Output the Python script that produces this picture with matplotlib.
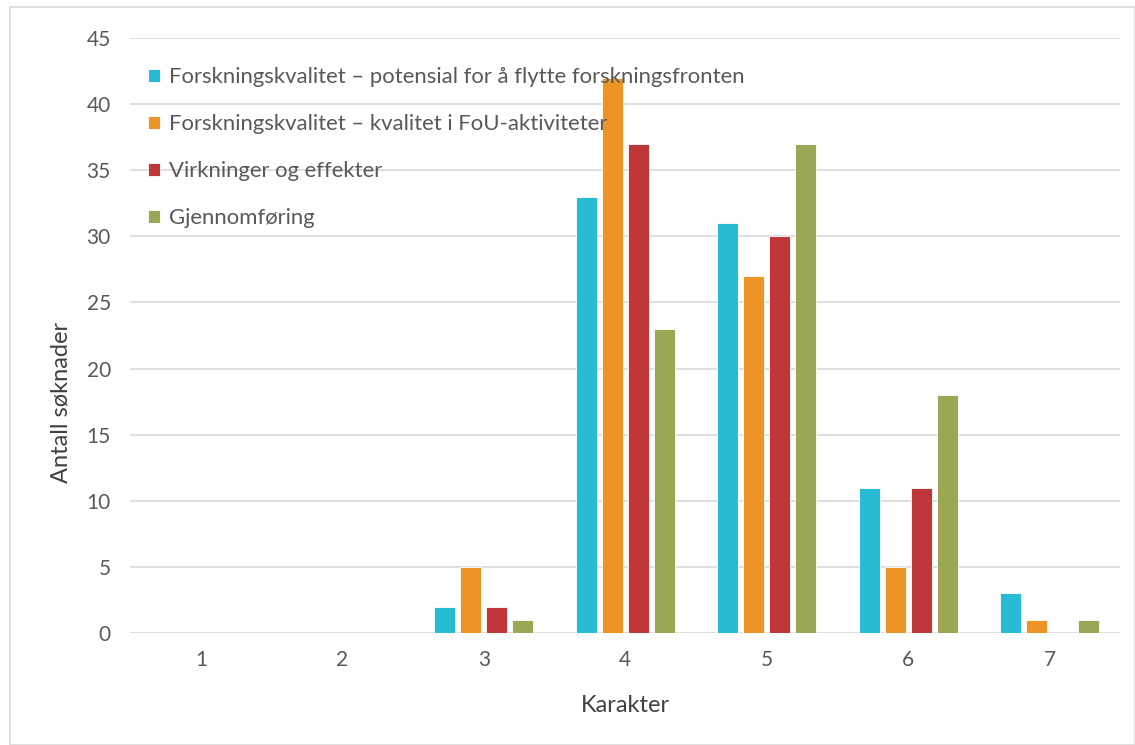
import numpy as np
import matplotlib
matplotlib.use("Agg")
import matplotlib.pyplot as plt
from matplotlib.patches import Rectangle

plt.rcParams['font.family'] = ['Lato', 'DejaVu Sans']

karakter = ['1', '2', '3', '4', '5', '6', '7']
series_names = [
    'Forskningskvalitet – potensial for å flytte forskningsfronten',
    'Forskningskvalitet – kvalitet i FoU-aktiviteter',
    'Virkninger og effekter',
    'Gjennomføring',
]
potensial = [0, 0, 2, 33, 31, 11, 3]
kvalitet = [0, 0, 5, 42, 27, 5, 1]
virkninger = [0, 0, 2, 37, 30, 11, 0]
gjennomforing = [0, 0, 1, 23, 37, 18, 1]
colors = ['#27BCD3', '#ED9427', '#C0373A', '#9BA754']

W, H = 1135, 745
fig = plt.figure(figsize=(W / 100, H / 100), dpi=100)
fig.patches.append(Rectangle((10 / W, 0), 1 - 10 / W, 1 - 7 / H, transform=fig.transFigure,
                             fill=False, edgecolor='#D9D9D9', linewidth=1.2))
ax = fig.add_axes([130.3 / W, 1 - 633 / H, 990 / W, 595 / H])

x = np.arange(len(karakter))
width = 0.148
step = 0.184
data = [potensial, kvalitet, virkninger, gjennomforing]
for i, (vals, name) in enumerate(zip(data, series_names)):
    ax.bar(x + (i - 1.5) * step, vals, width, color=colors[i], label=name, zorder=3,
           edgecolor='white', linewidth=0.6)

ax.set_xlim(-0.5, len(karakter) - 0.5)
ax.set_ylim(0, 45)
ax.set_yticks(range(0, 46, 5))
ax.set_xticks(x)
ax.set_xticklabels(karakter)
ax.yaxis.grid(True, color='#D9D9D9', linewidth=1.2, zorder=0)
ax.set_axisbelow(True)
for s in ax.spines.values():
    s.set_visible(False)
ax.tick_params(length=0, labelsize=15, colors='#595959')
ax.tick_params(axis='y', pad=14)
ax.tick_params(axis='x', pad=12)
ax.set_ylabel('Antall søknader', fontsize=17, color='#404040')
ax.yaxis.set_label_coords(-0.059, 0.388)
ax.set_xlabel('Karakter', fontsize=17, color='#404040')
ax.xaxis.set_label_coords(0.5, -0.105)

leg = ax.legend(loc='upper left', bbox_to_anchor=(0.018, 0.951), frameon=False,
                fontsize=15.9, labelspacing=1.22, handlelength=0.55, handleheight=0.55,
                handletextpad=0.4, borderaxespad=0, borderpad=0)
for t in leg.get_texts():
    t.set_color('#595959')

fig.savefig('out.png', dpi=100)
